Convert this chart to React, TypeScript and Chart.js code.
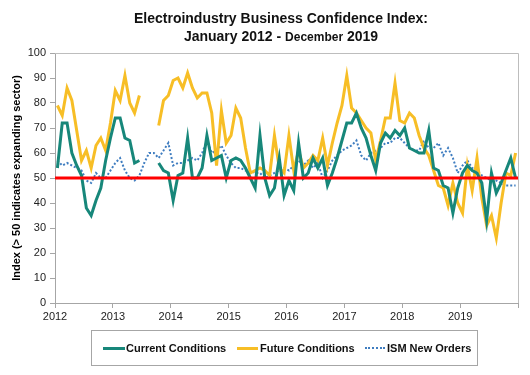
import React, { useEffect, useRef } from 'react';
import { Chart, registerables } from 'chart.js';

Chart.register(...registerables);

const FONT = '"Liberation Sans", Arial, Helvetica, sans-serif';

const yearLabels = ['2012', '2013', '2014', '2015', '2016', '2017', '2018', '2019'];
const yTicks = [0, 10, 20, 30, 40, 50, 60, 70, 80, 90, 100];
const threshold = 50;

// Monthly values, Jan 2012 .. Dec 2019 (96 months)
const currentConditions: (number | null)[] = [
  54, 72, 72, 60, 55, 51, 38, 35, 41, 46, 57, 66,
  74, 74, 66, 65, 56, 57, null, null, null, 56, 53, 52,
  41, 51, 52, 66, 50, 50, 54, 67, 57, 58, 59, 50,
  57, 58, 57, 54, 50, 46, 67, 50, 43, 46, 58, 43,
  49, 45, 64, 50, 52, 58, 54, 58, 47, 52, 58, 65,
  72, 72, 76, 70, 66, 59, 53, 64, 68, 66, 69, 67,
  70, 62, 61, 60, 60, 69, 54, 53, 47, 46, 36, 46,
  52, 55, 53, 52, 48, 33, 52, 44, 48, 53, 58, 50,
];

const futureConditions: (number | null)[] = [
  79, 75, 86, 81, 69, 57, 61, 54, 63, 66, 61, 72,
  85, 81, 91, 80, 76, 83, null, null, null, 71, 81, 83,
  89, 90, 86, 92, 86, 82, 84, 84, 76, 55, 77, 64,
  67, 78, 74, 62, 52, 53, 54, 53, 51, 67, 54, 52,
  67, 53, 61, 54, 56, 59, 57, 66, 55, 64, 72, 79,
  91, 78, 76, 73, 70, 68, 57, 65, 74, 74, 88, 73,
  72, 76, 74, 67, 62, 59, 53, 47, 46, 39, 48, 40,
  36, 55, 45, 58, 42, 31, 35, 26, 40, 52, 51, 60,
];

const ismNewOrders: (number | null)[] = [
  57, 55, 56, 55, 54, 53, 49, 48, 52, 50, 50, 53,
  56, 58, 53, 50, 49, 51, 56, 60, 60, 58, 61, 64,
  55, 56, 56, 57, 58, 57, 60, 65, 60, 61, 63, 59,
  56, 54, 54, 53, 53, 52, 52, 50, 51, 52, 53, 54,
  53, 55, 57, 55, 57, 54, 56, 50, 53, 57, 59, 61,
  62, 63, 65, 59, 57, 60, 61, 62, 64, 64, 66, 66,
  64, 62, 61, 61, 65, 62, 62, 64, 59, 62, 58, 52,
  55, 57, 54, 53, 51, 50, 49, 49, 48, 47, 47, 47,
];

const COLORS = {
  current: '#17877A',
  future: '#F7BE26',
  ism: '#3F7DC0',
  threshold: '#FF0000',
};

const toPoints = (arr: (number | null)[]) => arr.map((v, i) => ({ x: i + 0.5, y: v }));

const frameBorder = {
  id: 'frameBorder',
  beforeDatasetsDraw(chart: any) {
    const { ctx, chartArea } = chart;
    ctx.save();
    ctx.strokeStyle = '#BDBDBD';
    ctx.lineWidth = 1;
    ctx.beginPath();
    ctx.moveTo(chartArea.left, chartArea.top + 0.5);
    ctx.lineTo(chartArea.right + 0.5, chartArea.top + 0.5);
    ctx.lineTo(chartArea.right + 0.5, chartArea.bottom);
    ctx.stroke();
    ctx.restore();
  },
};

export default function App() {
  const canvasRef = useRef<HTMLCanvasElement | null>(null);

  useEffect(() => {
    if (!canvasRef.current) return;
    const months = yearLabels.length * 12;
    const chart = new Chart(canvasRef.current, {
      type: 'line',
      data: {
        datasets: [
          {
            label: 'Current Conditions',
            data: toPoints(currentConditions),
            borderColor: COLORS.current,
            borderWidth: 3,
            pointRadius: 0,
            spanGaps: false,
            order: 1,
          },
          {
            label: 'Future Conditions',
            data: toPoints(futureConditions),
            borderColor: COLORS.future,
            borderWidth: 3,
            pointRadius: 0,
            spanGaps: false,
            order: 2,
          },
          {
            label: 'ISM New Orders',
            data: toPoints(ismNewOrders),
            borderColor: COLORS.ism,
            borderWidth: 2,
            borderDash: [2, 2],
            pointRadius: 0,
            order: 3,
          },
          {
            label: 'Threshold',
            data: [
              { x: 0, y: threshold },
              { x: months, y: threshold },
            ],
            borderColor: COLORS.threshold,
            borderWidth: 3,
            pointRadius: 0,
            order: 0,
          },
        ] as any,
      },
      options: {
        animation: false,
        responsive: false,
        devicePixelRatio: 1,
        layout: { padding: { top: 53, right: 12, bottom: 42, left: 0 } },
        plugins: {
          legend: { display: false },
          title: { display: false },
          tooltip: { enabled: false },
        },
        scales: {
          x: {
            type: 'linear',
            min: 0,
            max: months,
            afterFit: (s: any) => {
              s.height = 30;
            },
            afterBuildTicks: (s: any) => {
              s.ticks = Array.from({ length: yearLabels.length + 1 }, (_, k) => ({ value: k * 12 }));
            },
            ticks: {
              autoSkip: false,
              maxRotation: 0,
              padding: 2,
              color: '#222',
              font: { family: FONT, size: 11 },
              callback: (v: any) => {
                const k = Math.round(Number(v) / 12);
                return yearLabels[k] ?? '';
              },
            },
            grid: { drawOnChartArea: false, drawTicks: true, tickLength: 5, color: '#A6A6A6' },
            border: { display: true, color: '#A6A6A6', width: 1 },
          },
          y: {
            min: 0,
            max: 100,
            afterFit: (s: any) => {
              s.width = 55;
            },
            afterBuildTicks: (s: any) => {
              s.ticks = yTicks.map((v) => ({ value: v }));
            },
            ticks: {
              padding: 4,
              color: '#222',
              font: { family: FONT, size: 11 },
            },
            grid: { drawOnChartArea: false, drawTicks: true, tickLength: 5, color: '#A6A6A6' },
            border: { display: true, color: '#A6A6A6', width: 1 },
            title: {
              display: true,
              text: 'Index (> 50 indicates expanding sector)',
              color: '#000',
              font: { family: FONT, size: 11, weight: 'bold' },
              padding: { top: 10, bottom: 0 },
            },
          },
        },
      } as any,
      plugins: [frameBorder],
    });
    return () => chart.destroy();
  }, []);

  const legendText: React.CSSProperties = {
    position: 'absolute',
    top: 341,
    fontFamily: FONT,
    fontWeight: 'bold',
    fontSize: 11,
    lineHeight: '14px',
    color: '#111',
    whiteSpace: 'nowrap',
  };

  return (
    <div
      style={{
        position: 'fixed',
        left: 0,
        top: 0,
        width: 530,
        height: 375,
        background: '#fff',
        overflow: 'hidden',
      }}
    >
      <canvas
        ref={canvasRef}
        width={530}
        height={375}
        style={{ position: 'absolute', left: 0, top: 0, width: 530, height: 375 }}
      />
      <div
        style={{
          position: 'absolute',
          left: 0,
          top: 9,
          width: 562,
          textAlign: 'center',
          fontFamily: FONT,
          fontWeight: 'bold',
          color: '#111',
        }}
      >
        <div style={{ fontSize: 14, lineHeight: '18px' }}>Electroindustry Business Confidence Index:</div>
        <div style={{ fontSize: 14, lineHeight: '18px' }}>
          January 2012 - <span style={{ fontSize: 12 }}>December</span> 2019
        </div>
      </div>
      <div
        style={{
          position: 'absolute',
          left: 91,
          top: 330,
          width: 387,
          height: 36,
          border: '1px solid #A6A6A6',
          boxSizing: 'border-box',
        }}
      />
      <div style={{ position: 'absolute', left: 103, top: 347, width: 22, height: 3, background: COLORS.current }} />
      <div style={{ ...legendText, left: 126 }}>Current Conditions</div>
      <div style={{ position: 'absolute', left: 237, top: 347, width: 21, height: 3, background: COLORS.future }} />
      <div style={{ ...legendText, left: 260 }}>Future Conditions</div>
      <div
        style={{
          position: 'absolute',
          left: 365,
          top: 347,
          width: 20,
          height: 0,
          borderTop: `2px dotted ${COLORS.ism}`,
        }}
      />
      <div style={{ ...legendText, left: 387 }}>ISM New Orders</div>
    </div>
  );
}
